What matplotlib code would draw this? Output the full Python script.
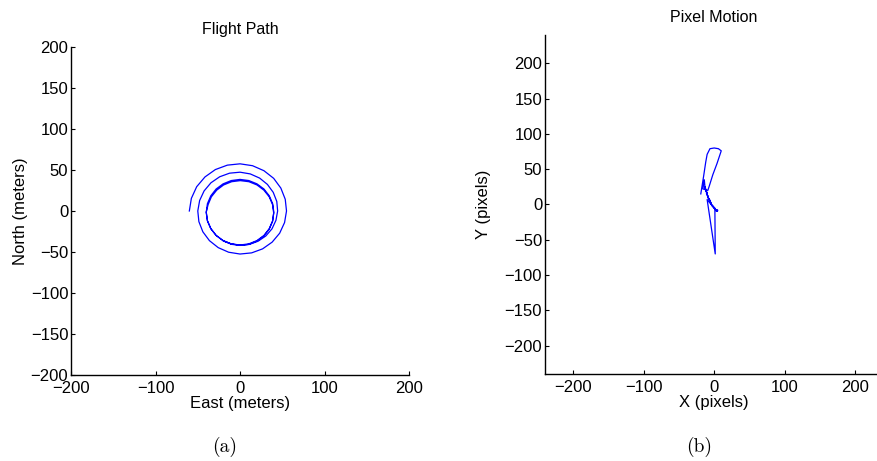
import matplotlib
matplotlib.use("Agg")
import matplotlib.pyplot as plt

plt.rcParams['font.family'] = ['Liberation Sans', 'DejaVu Sans']

# Flight path (East, North) in meters
flight_east = [
    -60.0, -57.6, -51.3, -41.5, -29.2, -15.0, 0.0, 14.8, 28.3, 39.8, 48.3, 53.5,
    55.0, 52.7, 46.9, 38.0, 26.7, 13.7, 0.0, -13.5, -25.8, -36.2, -44.0, -48.7,
    -50.0, -47.8, -42.5, -34.4, -24.1, -12.4, 0.0, 12.1, 23.2, 32.4, 39.3, 43.5,
    44.5, 42.5, 37.8, 30.5, 21.3, 10.9, 0.0, -10.6, -20.3, -28.3, -34.6, -38.6,
    -40.0, -38.6, -34.6, -28.3, -20.0, -10.4, 0.0, 10.4, 20.0, 28.3, 34.6, 38.6,
    40.0, 38.6, 34.6, 28.3, 20.0, 10.4, 0.0, -10.4, -20.0, -28.3, -34.6, -38.6,
    -40.0, -37.8, -33.9, -27.6, -19.5, -9.9, 0.3, 10.5, 20.1, 28.2, 34.5, 38.5,
    39.8, 38.5, 34.5, 28.2, 20.1, 10.5, 0.3, -9.9, -19.5,
]
flight_north = [
    0.0, 15.4, 29.6, 41.5, 50.5, 55.9, 57.5, 55.2, 49.1, 39.8, 27.9, 14.3,
    0.0, -14.1, -27.1, -38.0, -46.2, -51.1, -52.5, -50.3, -44.7, -36.2, -25.4, -13.0,
    0.0, 12.8, 24.5, 34.4, 41.7, 46.1, 47.3, 45.2, 40.1, 32.4, 22.7, 11.6,
    0.0, -11.4, -21.8, -30.5, -36.9, -40.8, -41.8, -40.1, -36.1, -29.8, -21.5, -11.9,
    -1.5, 8.9, 18.5, 26.8, 33.1, 37.1, 38.5, 37.1, 33.1, 26.8, 18.5, 8.9,
    -1.5, -11.9, -21.5, -29.8, -36.1, -40.1, -41.5, -40.1, -36.1, -29.8, -21.5, -11.9,
    -1.5, 7.7, 17.3, 25.4, 31.7, 35.7, 37.0, 35.7, 31.7, 25.4, 17.3, 7.7,
    -2.5, -12.7, -22.3, -30.4, -36.7, -40.7, -42.0, -40.7, -36.7,
]

# Pixel motion (X, Y) in pixels
pixel_x = [
    -19, -15, -12, -10, -6, 0, 6, 10, 4, -2, -7, -9,
    -16, -14, -13, -12, -13, -10, -12, -9, -11, -8, -9, -6, -7, -4, -6, -2, -4, 0,
    -2, 2, 0, 3, 1, 4, 2, 5, 3,
    -10, 1.5, 1, 3, 5, 2, 4,
]
pixel_y = [
    15, 40, 60, 71, 79, 80, 79, 76, 58, 42, 26, 20,
    22, 35, 24, 20, 25, 16, 20, 12, 16, 8, 12, 4, 8, 1, 4, -3, 0, -5,
    -2, -7, -4, -9, -6, -9, -7, -8, -9,
    7, -70, -8, -8, -9, -7, -9,
]

line_color = '#0000ff'

fig = plt.figure(figsize=(8.77, 4.61), dpi=100)

def style_axes(ax):
    ax.spines['top'].set_visible(False)
    ax.spines['right'].set_visible(False)
    ax.spines['left'].set_linewidth(1.0)
    ax.spines['bottom'].set_linewidth(1.0)
    ax.tick_params(direction='in', length=3, width=0.8, labelsize=12,
                   top=False, right=False, pad=2)
    ax.tick_params(axis='x', pad=4)

# (a) flight path
ax1 = fig.add_axes([0.081, 0.1866, 0.3854, 0.7115])
ax1.plot(flight_east, flight_north, color=line_color, linewidth=0.9)
ax1.set_xlim(-200, 200)
ax1.set_ylim(-200, 200)
ax1.set_xticks([-200, -100, 0, 100, 200])
ax1.set_yticks([-200, -150, -100, -50, 0, 50, 100, 150, 200])
style_axes(ax1)
ax1.set_title('Flight Path', fontsize=11.5, pad=9)
ax1.set_xlabel('East (meters)', fontsize=12, labelpad=0)
ax1.set_ylabel('North (meters)', fontsize=12, labelpad=2)

# (b) pixel motion
ax2 = fig.add_axes([0.6214, 0.1887, 0.3859, 0.7354])
ax2.plot(pixel_x, pixel_y, color=line_color, linewidth=0.9)
ax2.set_xlim(-240, 240)
ax2.set_ylim(-240, 240)
ax2.set_xticks([-200, -100, 0, 100, 200])
ax2.set_yticks([-200, -150, -100, -50, 0, 50, 100, 150, 200])
style_axes(ax2)
ax2.set_title('Pixel Motion', fontsize=11.5, pad=9)
ax2.set_xlabel('X (pixels)', fontsize=12, labelpad=0)
ax2.set_ylabel('Y (pixels)', fontsize=12, labelpad=10)

fig.text(225 / 877, 1 - 447 / 461, '(a)', fontfamily='cmr10', fontsize=14,
         ha='center', va='center')
fig.text(699 / 877, 1 - 447 / 461, '(b)', fontfamily='cmr10', fontsize=14,
         ha='center', va='center')

fig.savefig('out.png', dpi=100)
